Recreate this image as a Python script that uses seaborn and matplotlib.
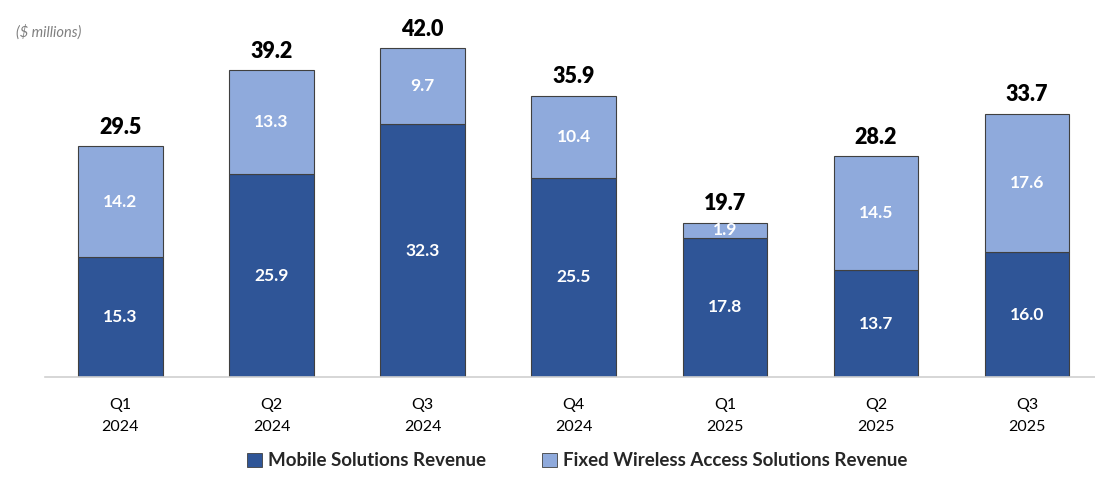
import matplotlib
matplotlib.use("Agg")
import matplotlib.pyplot as plt
import seaborn as sns
import pandas as pd
from matplotlib.patches import Patch

quarters = ["Q1\n2024", "Q2\n2024", "Q3\n2024", "Q4\n2024", "Q1\n2025", "Q2\n2025", "Q3\n2025"]
mobile = [15.3, 25.9, 32.3, 25.5, 17.8, 13.7, 16.0]
fwa = [14.2, 13.3, 9.7, 10.4, 1.9, 14.5, 17.6]
totals = [29.5, 39.2, 42.0, 35.9, 19.7, 28.2, 33.7]
series_names = ["Mobile Solutions Revenue", "Fixed Wireless Access Solutions Revenue"]

dark = "#2F5597"
light = "#8FAADC"
edge = "#404040"

sns.set_theme(style="white")
plt.rcParams["font.family"] = ["Lato", "DejaVu Sans"]

df = pd.DataFrame({"quarter": quarters, "mobile": mobile, "fwa": fwa, "total": totals})

fig = plt.figure(figsize=(10.95, 4.78), dpi=100)
ax = fig.add_axes([0.041, 0.211, 0.959, 0.737])

w = 0.56
sns.barplot(data=df, x="quarter", y="mobile", color=dark, width=w, saturation=1,
            edgecolor=edge, linewidth=0.8, ax=ax)
sns.barplot(data=df, x="quarter", y="fwa", color=light, width=w, saturation=1,
            edgecolor=edge, linewidth=0.8, bottom=df["mobile"], ax=ax)

for i, (m, f, t) in enumerate(zip(mobile, fwa, totals)):
    ax.text(i, m / 2, f"{m:.1f}", ha="center", va="center", color="white",
            fontsize=12.5, fontweight="bold")
    ax.text(i, m + f / 2, f"{f:.1f}", ha="center", va="center", color="white",
            fontsize=12.5, fontweight="bold")
    ax.text(i, t + 1.1, f"{t:.1f}", ha="center", va="bottom", color="black",
            fontsize=15.5, fontweight="heavy")

ax.set_xlim(-0.5, 6.45)
ax.set_ylim(0, 45)
ax.set_xlabel("")
ax.set_ylabel("")
ax.set_yticks([])
ax.tick_params(axis="x", length=0, pad=15, labelsize=11.5, colors="black")
for lab in ax.get_xticklabels():
    lab.set_linespacing(1.75)
for s in ["top", "right", "left"]:
    ax.spines[s].set_visible(False)
ax.spines["bottom"].set_color("#d0d0d0")
ax.spines["bottom"].set_linewidth(1.2)

fig.text(0.015, 0.933, "($ millions)", fontsize=10.5, style="italic", color="#808080",
         ha="left", va="center")

handles = [Patch(facecolor=dark, edgecolor=edge, linewidth=0.6),
           Patch(facecolor=light, edgecolor=edge, linewidth=0.6)]
leg = fig.legend(handles, series_names, loc="center", bbox_to_anchor=(0.527, 0.036), ncol=2,
                 frameon=False, handlelength=0.8, handleheight=0.8, handletextpad=0.3,
                 columnspacing=3.0, prop={"weight": "bold", "size": 13.5})

fig.savefig("out.png", dpi=100)
